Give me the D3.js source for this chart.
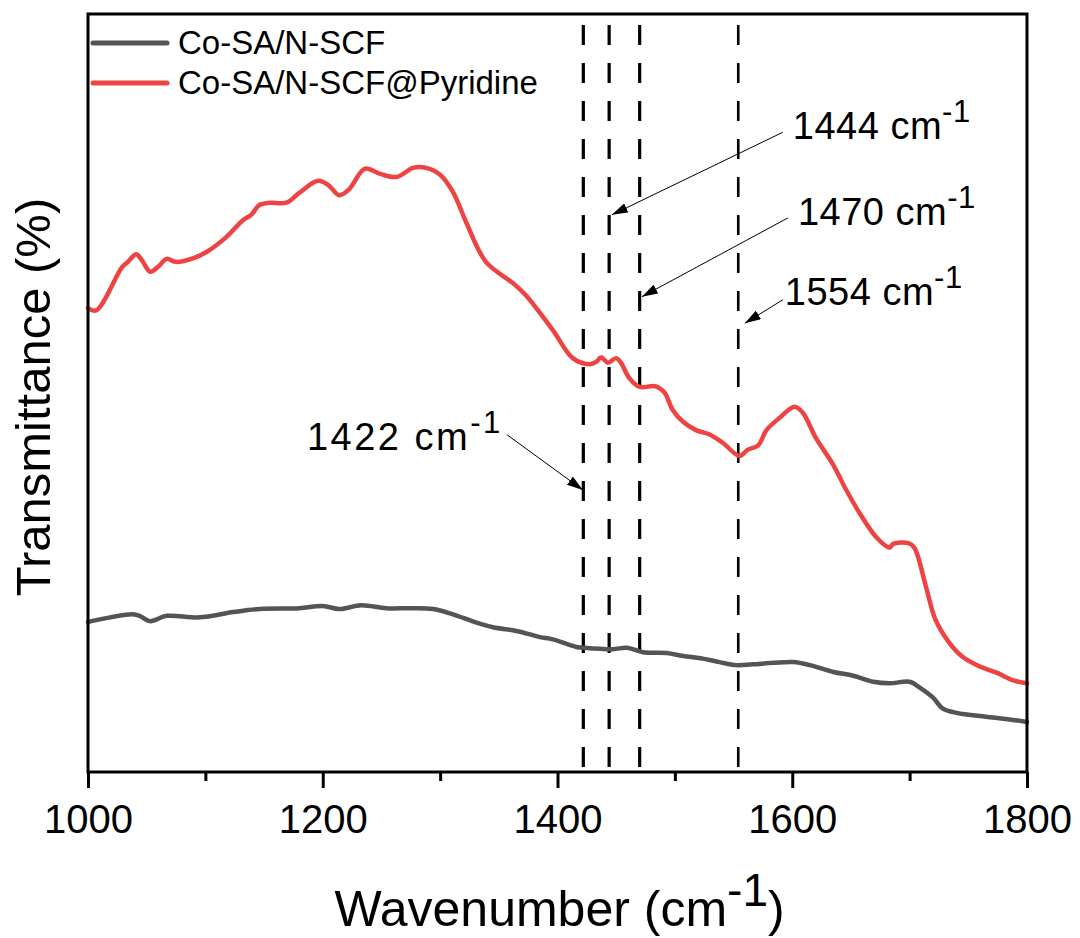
<!DOCTYPE html>
<html>
<head>
<meta charset="utf-8">
<script src="https://cdn.jsdelivr.net/npm/d3@7"></script>
<style>
  html, body { margin: 0; padding: 0; background: #fff; }
  svg { display: block; font-family: "Liberation Sans", Arial, sans-serif; }
</style>
</head>
<body>
<svg id="chart" width="1080" height="938"></svg>
<script>
// FTIR spectra (transmittance, arbitrary units) vs wavenumber (cm^-1)
const seriesNames = ["Co-SA/N-SCF", "Co-SA/N-SCF@Pyridine"];
const seriesColors = ["#545454", "#ee4343"];

const pristineWn = [1000, 1019, 1038, 1044, 1053, 1067, 1095, 1124, 1146, 1180, 1200, 1214, 1233, 1254, 1274, 1294, 1311, 1331, 1345, 1362, 1368, 1385, 1396, 1416, 1422, 1447, 1459, 1473, 1493, 1507, 1522, 1538, 1552, 1566, 1584, 1601, 1615, 1635, 1652, 1669, 1683, 1700, 1708, 1720, 1728, 1740, 1765, 1782, 1800];
const pristineT  = [19.8, 20.4, 20.8, 20.6, 19.9, 20.6, 20.4, 21.1, 21.5, 21.6, 21.9, 21.5, 22.0, 21.6, 21.6, 21.5, 20.8, 19.7, 19.1, 18.7, 18.5, 17.8, 17.5, 16.5, 16.4, 16.2, 16.4, 15.8, 15.7, 15.3, 15.0, 14.5, 14.1, 14.2, 14.4, 14.5, 14.1, 13.2, 12.7, 11.9, 11.7, 11.9, 11.2, 9.8, 8.4, 7.8, 7.3, 7.0, 6.6];

const pyridineWn = [1000, 1007, 1029, 1034, 1041, 1046, 1053, 1060, 1067, 1075, 1090, 1101, 1118, 1132, 1139, 1146, 1155, 1169, 1180, 1196, 1205, 1214, 1222, 1236, 1249, 1263, 1277, 1288, 1300, 1311, 1322, 1339, 1362, 1373, 1396, 1413, 1427, 1433, 1437, 1443, 1450, 1454, 1461, 1470, 1483, 1491, 1498, 1507, 1518, 1530, 1541, 1555, 1562, 1571, 1578, 1589, 1602, 1609, 1620, 1635, 1646, 1660, 1672, 1683, 1686, 1699, 1704, 1714, 1722, 1734, 1745, 1760, 1774, 1788, 1800];
const pyridineT  = [61.2, 60.9, 66.6, 67.3, 68.3, 67.5, 66.0, 66.7, 67.7, 67.3, 67.8, 68.6, 70.6, 72.8, 73.5, 74.8, 75.1, 75.1, 76.4, 78.0, 77.4, 76.1, 76.8, 79.6, 78.9, 78.5, 79.7, 79.7, 78.8, 76.5, 72.6, 67.3, 64.5, 62.9, 58.3, 54.6, 53.8, 54.1, 54.7, 54.0, 54.6, 54.0, 52.0, 50.8, 50.9, 50.1, 47.8, 46.2, 45.1, 44.5, 43.4, 41.7, 42.5, 43.1, 45.1, 46.7, 48.2, 47.4, 44.1, 40.5, 37.2, 33.5, 30.9, 29.6, 30.1, 30.2, 29.6, 24.4, 20.1, 17.0, 15.2, 13.9, 13.1, 12.1, 11.7];

// Marked bands
const bandWn = [1422, 1444, 1470, 1554];
const bandLabels = ["1422", "1444", "1470", "1554"];
// arrow tip, arrow tail and label anchor in data units (wavenumber, transmittance)
const tipWn    = [1421.6, 1446.3, 1471.9, 1559.6];
const tipT     = [37.2, 73.5, 62.7, 59.2];
const tailWn   = [1356.9, 1592.0, 1596.3, 1592.0];
const tailT    = [44.5, 84.4, 73.1, 62.3];
const labelWn  = [1186.5, 1600.5, 1604.8, 1593.7];
const labelT   = [42.5, 83.5, 72.2, 61.6];

const majorTicks = [1000, 1200, 1400, 1600, 1800];
const minorTicks = [1100, 1300, 1500, 1700];

const svg = d3.select("#chart");
const plotL = 88, plotR = 1027, plotT = 14, plotB = 772;

const x = d3.scaleLinear().domain([1000, 1800]).range([plotL, plotR]);
const y = d3.scaleLinear().domain([0, 100]).range([plotB, plotT]);

// arrowhead marker
svg.append("defs").append("marker")
  .attr("id", "arrowhead")
  .attr("viewBox", "0 0 16 10")
  .attr("refX", 16).attr("refY", 5)
  .attr("markerWidth", 16).attr("markerHeight", 10)
  .attr("markerUnits", "userSpaceOnUse")
  .attr("orient", "auto")
  .append("path").attr("d", "M0,0 L16,5 L0,10 Z").attr("fill", "#000");

// dashed band markers
svg.append("g").selectAll("line").data(bandWn).join("line")
  .attr("x1", d => x(d)).attr("x2", d => x(d))
  .attr("y1", plotB - 5).attr("y2", plotT)
  .attr("stroke", "#000")
  .attr("stroke-width", (d, i) => i === 3 ? 2.6 : 3.2)
  .attr("stroke-dasharray", "20,18");

// spectra
const line = d3.line().x(d => x(d[0])).y(d => y(d[1])).curve(d3.curveCatmullRom.alpha(0.5));
const series = [
  d3.zip(pristineWn, pristineT),
  d3.zip(pyridineWn, pyridineT)
];
svg.append("g").selectAll("path").data(series).join("path")
  .attr("d", line)
  .attr("fill", "none")
  .attr("stroke", (d, i) => seriesColors[i])
  .attr("stroke-width", 4.5)
  .attr("stroke-linejoin", "round")
  .attr("stroke-linecap", "round");

// frame
svg.append("rect")
  .attr("x", plotL).attr("y", plotT)
  .attr("width", plotR - plotL).attr("height", plotB - plotT)
  .attr("fill", "none").attr("stroke", "#000").attr("stroke-width", 3);

// bottom axis
const axisMajor = d3.axisBottom(x).tickValues(majorTicks).tickSize(16).tickFormat(d3.format("d"));
const gx = svg.append("g").attr("transform", `translate(0,${plotB})`).call(axisMajor);
gx.select(".domain").remove();
gx.selectAll(".tick line").attr("stroke-width", 3);
gx.selectAll(".tick text")
  .attr("y", 61).attr("dy", 0)
  .attr("font-size", 40).attr("font-family", "Liberation Sans, Arial, sans-serif")
  .attr("fill", "#000");

const axisMinor = d3.axisBottom(x).tickValues(minorTicks).tickSize(9).tickFormat("");
const gm = svg.append("g").attr("transform", `translate(0,${plotB})`).call(axisMinor);
gm.select(".domain").remove();
gm.selectAll(".tick line").attr("stroke-width", 3);

// axis titles
const xt = svg.append("text")
  .attr("x", (plotL + plotR) / 2 + 2).attr("y", 926)
  .attr("text-anchor", "middle").attr("font-size", 50).attr("fill", "#000");
xt.append("tspan").text("Wavenumber (cm");
xt.append("tspan").attr("font-size", 46).attr("dy", -20).text("-1");
xt.append("tspan").attr("dy", 20).text(")");

svg.append("text")
  .attr("transform", `translate(50,${(plotT + plotB) / 2 + 4}) rotate(-90)`)
  .attr("text-anchor", "middle").attr("font-size", 49).attr("fill", "#000")
  .text("Transmittance (%)");

// annotations
const ann = svg.append("g");
bandWn.forEach((wn, i) => {
  ann.append("line")
    .attr("x1", x(tailWn[i])).attr("y1", y(tailT[i]))
    .attr("x2", x(tipWn[i])).attr("y2", y(tipT[i]))
    .attr("stroke", "#000").attr("stroke-width", 1)
    .attr("marker-end", "url(#arrowhead)");
  const t = ann.append("text")
    .attr("x", x(labelWn[i])).attr("y", y(labelT[i]))
    .attr("font-size", 38).attr("fill", "#000")
    .attr("letter-spacing", i === 0 ? 2.5 : 0.5);
  t.append("tspan").text(bandLabels[i] + " cm");
  t.append("tspan").attr("font-size", 31).attr("dy", -17).text("-1");
});

// legend
const legend = svg.append("g");
seriesNames.forEach((name, i) => {
  const ly = 43 + i * 40;
  legend.append("line")
    .attr("x1", 93).attr("x2", 167).attr("y1", ly).attr("y2", ly)
    .attr("stroke", seriesColors[i]).attr("stroke-width", 5)
    .attr("stroke-linecap", "round");
  legend.append("text")
    .attr("x", 178).attr("y", ly + 11)
    .attr("font-size", 33).attr("fill", "#000")
    .text(name);
});
</script>
</body>
</html>
